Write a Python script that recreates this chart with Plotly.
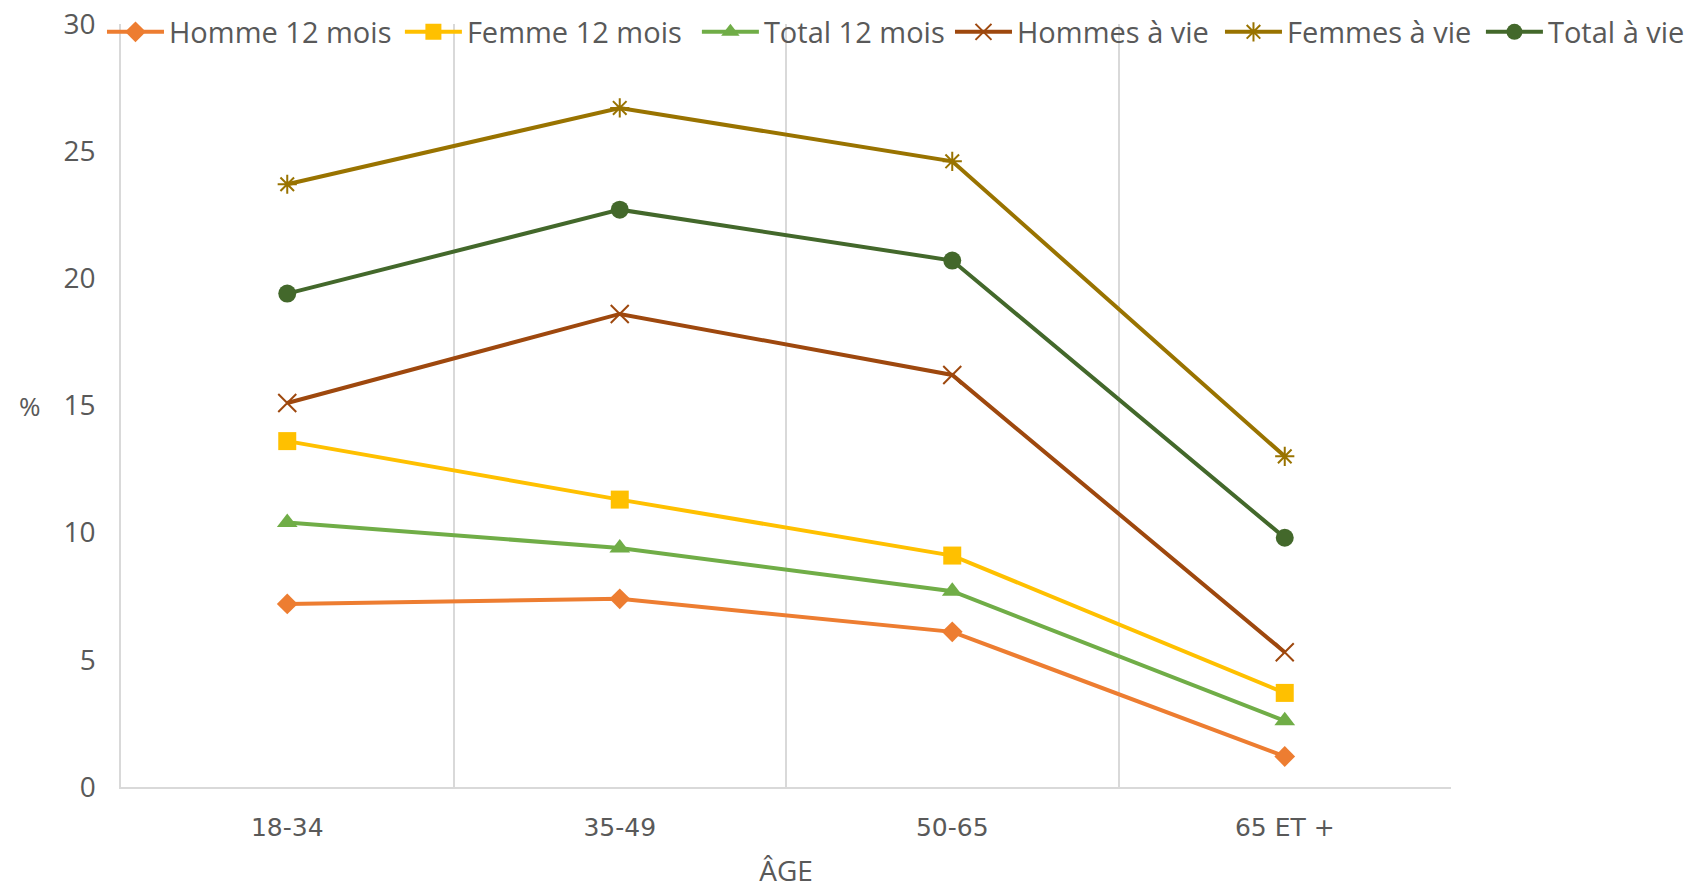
import plotly.graph_objects as go

categories = ["18-34", "35-49", "50-65", "65 ET +"]
homme_12 = [7.2, 7.4, 6.1, 1.2]
femme_12 = [13.6, 11.3, 9.1, 3.7]
total_12 = [10.4, 9.4, 7.7, 2.6]
hommes_vie = [15.1, 18.6, 16.2, 5.3]
femmes_vie = [23.7, 26.7, 24.6, 13.0]
total_vie = [19.4, 22.7, 20.7, 9.8]
y_ticks = [0, 5, 10, 15, 20, 25, 30]

series = [
    ("Homme 12 mois", homme_12, "#ED7D31", "diamond", 16),
    ("Femme 12 mois", femme_12, "#FFC000", "square", 18),
    ("Total 12 mois", total_12, "#70AD47", "triangle-up", 18),
    ("Hommes à vie", hommes_vie, "#9E480E", "x-thin-open", 18),
    ("Femmes à vie", femmes_vie, "#997300", "asterisk-open", 16),
    ("Total à vie", total_vie, "#43682B", "circle", 18),
]
# horizontal start of each legend entry (paper fraction of the plot width)
legend_x = [-0.0143, 0.2097, 0.433, 0.6233, 0.8263, 1.0225]

GREY = "#595959"
LEGEND_FONT = dict(size=29, family="Open Sans", color=GREY)

fig = go.Figure()
legend_layouts = {}
for i, (name, vals, color, sym, size) in enumerate(series):
    lid = "legend" if i == 0 else f"legend{i+1}"
    marker = dict(symbol=sym, size=size, color=color)
    if sym.endswith("open"):
        marker["line"] = dict(color=color, width=2)
    fig.add_trace(go.Scatter(
        x=categories, y=vals, name=name, mode="lines+markers",
        line=dict(color=color, width=4), marker=marker, legend=lid,
    ))
    legend_layouts[lid] = dict(
        orientation="h", x=legend_x[i], xanchor="left", y=0.9895, yanchor="middle",
        bgcolor="rgba(0,0,0,0)", font=LEGEND_FONT, itemwidth=57,
    )

# the page places the figure 8px from the top-left corner; size/margins compensate
fig.update_layout(
    width=1689, height=881,
    margin=dict(l=113, r=246, t=16, b=102, autoexpand=False),
    paper_bgcolor="white", plot_bgcolor="white",
    font=dict(family="Open Sans", color=GREY),
    showlegend=True,
    xaxis=dict(type="category", tickson="boundaries", showgrid=True, gridcolor="#D9D9D9",
               gridwidth=1.5, showline=True, linecolor="#D9D9D9", linewidth=2,
               ticks="", range=[-0.5, 3.5], ticklabelstandoff=17,
               tickfont=dict(size=25, family="DejaVu Sans", color=GREY),
               title=dict(text="ÂGE", font=dict(size=28, family="Open Sans", color=GREY), standoff=25)),
    yaxis=dict(range=[0, 30], tickvals=y_ticks, showgrid=False, showline=True,
               linecolor="#D9D9D9", linewidth=1.5, ticks="", zeroline=False,
               ticklabeloverflow="allow",
               tickfont=dict(size=28, family="Open Sans", color=GREY), ticklabelstandoff=18),
    annotations=[dict(text="%", xref="paper", yref="y", x=-0.0684, y=15, showarrow=False,
                      xanchor="center", yanchor="middle",
                      font=dict(size=26, family="Open Sans", color=GREY))],
    **legend_layouts,
)

fig.write_html("out.html")
